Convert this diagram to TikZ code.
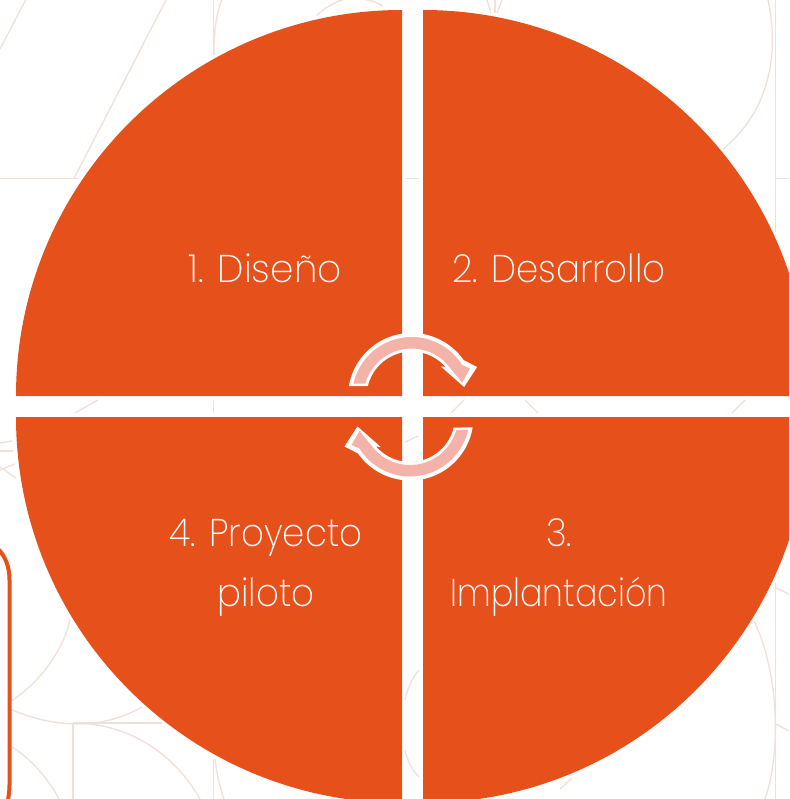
\documentclass[tikz,border=0pt]{standalone}
\usepackage{fontspec}
\setmainfont{Poppins}[UprightFont=* ExtraLight,FakeStretch=0.92]
\newfontfamily\narrowlabel{Poppins}[UprightFont=* ExtraLight,FakeStretch=0.86]
\newfontfamily\widelabel{Poppins}[UprightFont=* ExtraLight,FakeStretch=0.97]
\definecolor{orangefill}{HTML}{E6501B}
\definecolor{pinkfill}{HTML}{F4B3A8}
\definecolor{faintline}{HTML}{EFE0D9}
\tikzset{
  bgline/.style={draw=faintline,line width=1pt},
  quadrant/.style={fill=orangefill},
  arrowhalo/.style={fill=white},
  arrowcore/.style={fill=pinkfill},
  steplabel/.style={text=white,font=\fontsize{29}{45}\selectfont,align=center,inner sep=0pt}
}
\newcommand{\haloPath}{
  (189.5:63.5) arc[start angle=189.5,end angle=325,radius=63.5]
  -- (65.5,-29.5) -- (52.5,-9.5) -- (29.5,-29.8) -- (33.8,-29.7)
  arc[start angle=318.7,end angle=193.5,radius=45] -- cycle
}
\newcommand{\corePath}{
  (192.6:59.5) arc[start angle=192.6,end angle=328,radius=59.5]
  -- (58.5,-28) -- (50.5,-14) -- (38.6,-28.5)
  arc[start angle=323.6,end angle=195.7,radius=48] -- cycle
}
\begin{document}
\begin{tikzpicture}[x=0.75pt,y=-0.75pt]
\useasboundingbox (0,0) rectangle (789,799);
\fill[white] (0,0) rectangle (789,799);
\begin{scope}
\clip (0,0) rectangle (789,799);
% background pattern
\draw[bgline] (25.7,0) -- (0,49);
\draw[bgline] (166,0) -- (74,178.5);
\draw[bgline] (0,178.5) -- (78,178.5);
\draw[bgline] (213.5,0) -- (213.5,55);
\draw[bgline] (221.7,0) .. controls (216,15) and (213.5,35) .. (214,55);
\draw[bgline] (316.7,15.7) .. controls (328,4) and (345,-2) .. (352,-2) .. controls (362,-2) and (375,1) .. (383,6);
\draw[bgline] (487,0) -- (491,13);
\draw[bgline] (495,0) -- (495,13);
\draw[bgline] (502,0) -- (497,13);
\draw[bgline] (405,178.5) -- (419,178.5);
\draw[bgline] (775.7,0) -- (775.7,232);
\draw[bgline] (775.7,178.5) -- (789,178.5);
\draw[bgline] (768,0) .. controls (781,60) and (765,115) .. (723,149);
\draw[bgline] (98,400) -- (75,413);
\draw[bgline] (213.5,400) -- (213.5,413);
\draw[bgline] (464,400) -- (451,413);
\draw[bgline] (525,400) -- (538,413);
\draw[bgline] (745,400) -- (732,413);
\draw[bgline] (405,442) -- (418,436);
\draw[bgline] (408,464) -- (418,461);
\draw[bgline] (0,443) -- (12,441);
\draw[bgline] (0,451) -- (13,451);
\draw[bgline] (0,470) -- (15,464);
\draw[bgline] (0,467) -- (16,478);
\draw[bgline] (12,700.7) .. controls (42,680) and (63,650) .. (70,620);
\draw[bgline] (12,710) .. controls (60,730) and (105,728) .. (142,707);
\draw[bgline] (73,723) -- (162,723);
\draw[bgline] (73,723) .. controls (130,723) and (175,755) .. (200,799);
\draw[bgline] (73,723) -- (73,799);
\draw[bgline] (12,747) .. controls (30,758) and (48,778) .. (59,799);
\draw[bgline] (213.5,759) -- (213.5,799);
\draw[bgline] (215,759) .. controls (217,775) and (220,788) .. (224,799);
\draw[bgline] (419,670) .. controls (412,678) and (407,690) .. (405,700);
\draw[bgline] (405,750) .. controls (407,760) and (412,770) .. (419,777);
\draw[bgline] (775.7,582) -- (775.7,799);
\draw[bgline] (754,621) .. controls (778,670) and (782,750) .. (765,799);
\draw[bgline] (776,588) -- (789,594);
\draw[bgline] (776,724) -- (789,731);
\draw[bgline] (572,778) -- (560,789);
% left rounded frame
\draw[orangefill,line width=3pt] (-2,549) .. controls (5,556) and (9.5,566) .. (9.5,580) -- (9.5,785) .. controls (9.5,790) and (9,795) .. (8,799);
% quadrants
\fill[quadrant] (402,396) -- (16,396) arc[start angle=180,end angle=270,radius=386] -- cycle;
\fill[quadrant] (423,396) -- (423,10) arc[start angle=270,end angle=360,radius=386] -- cycle;
\fill[quadrant] (423,417) -- (809,417) arc[start angle=0,end angle=90,radius=386] -- cycle;
\fill[quadrant] (402,417) -- (402,803) arc[start angle=90,end angle=180,radius=386] -- cycle;
% cycle arrows
\begin{scope}[shift={(411.6,396.5)}]
\fill[arrowhalo] \haloPath;
\fill[arrowcore] \corePath;
\end{scope}
\begin{scope}[shift={(410,417)},rotate=180]
\fill[arrowhalo] \haloPath;
\fill[arrowcore] \corePath;
\end{scope}
\end{scope}
% labels
\node[steplabel] (diseno) at (265,268) {\widelabel 1. Diseño};
\node[steplabel] (desarrollo) at (559,268) {2. Desarrollo};
\node[steplabel] (piloto) at (266,568) {4. Proyecto\\piloto};
\node[steplabel] (implantacion) at (559,568) {3.\\{\narrowlabel Implantación}};
\end{tikzpicture}
\end{document}
